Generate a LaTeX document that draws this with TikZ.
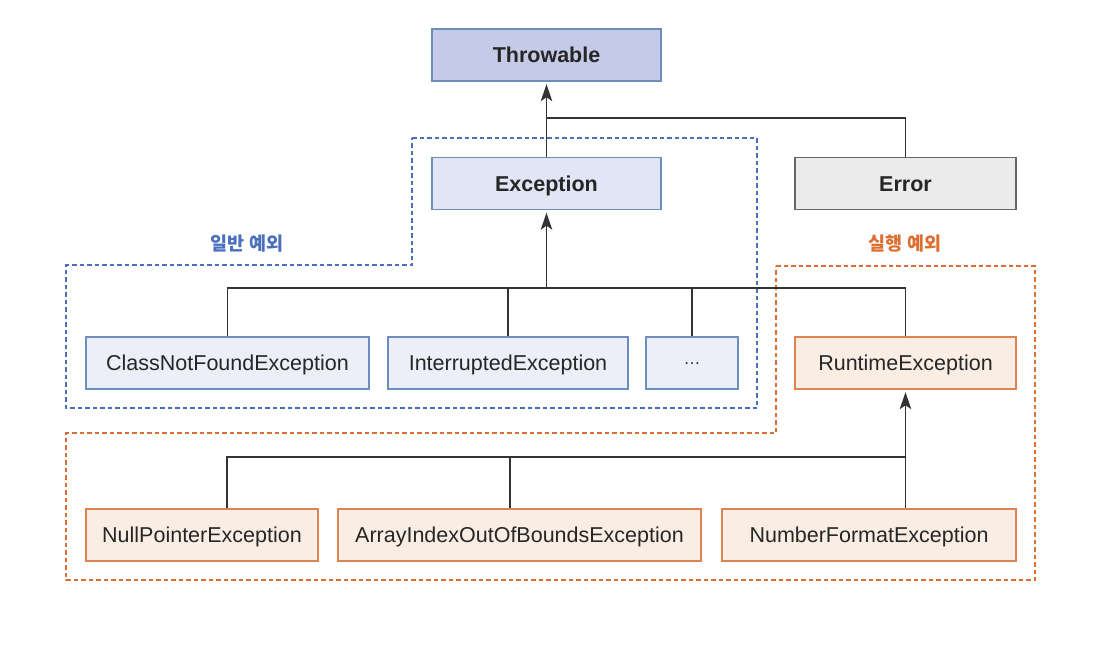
\documentclass[tikz,border=0pt]{standalone}
\usepackage{fontspec}
\setmainfont{Liberation Sans}
\newfontfamily\kofont{Noto Sans CJK KR}
\usetikzlibrary{arrows.meta,calc}
\definecolor{bluebd}{HTML}{6C8EBF}
\definecolor{thrfill}{HTML}{C5CBE7}
\definecolor{excfill}{HTML}{E1E5F5}
\definecolor{lbfill}{HTML}{ECEEF8}
\definecolor{errfill}{HTML}{EBEBEB}
\definecolor{errbd}{HTML}{666666}
\definecolor{orbd}{HTML}{DD8452}
\definecolor{orfill}{HTML}{FAEEE4}
\definecolor{bluedash}{HTML}{4A6FBD}
\definecolor{ordash}{HTML}{DD6E30}
\definecolor{linec}{HTML}{333333}
\begin{document}
\begin{tikzpicture}[x=1pt,y=-1pt,
  box/.style={draw, line width=1.4pt, inner sep=0pt, minimum height=52pt, text height=15.5pt, text depth=0pt, font=\fontsize{21.5}{24}\selectfont, text=black!85},
  bbox/.style={box, font=\bfseries\fontsize{21.5}{24}\selectfont},
  bluebox/.style={box, draw=bluebd, fill=lbfill},
  orbox/.style={box, draw=orbd, fill=orfill},
  conn/.style={draw=linec, line width=1.5pt},
  arr/.style={conn, shorten >=2.5pt, -{Stealth[length=17pt,width=11.5pt,inset=4pt]}},
  grp/.style={line width=1.3pt, dash pattern=on 4.5pt off 3pt},
  lbl/.style={font=\kofont\bfseries\fontsize{18.5}{22}\selectfont}
]
\useasboundingbox (0,0) rectangle (1110,648);
\fill[white] (0,0) rectangle (1110,648);

% groups
\draw[grp, draw=bluedash] (412,138) -- (757,138) -- (757,408) -- (66,408) -- (66,265) -- (412,265) -- cycle;
\draw[grp, draw=ordash] (776,266) -- (1035,266) -- (1035,580) -- (66,580) -- (66,433) -- (776,433) -- cycle;
\node[lbl, text=bluedash] (lblA) at (247,244) {일반 예외};
\node[lbl, text=ordash] (lblB) at (905,244) {실행 예외};

% nodes
\node[bbox, draw=bluebd, fill=thrfill, minimum width=229pt] (thr) at (546.5,55) {Throwable};
\node[bbox, draw=bluebd, fill=excfill, minimum width=229pt] (exc) at (546.5,183.5) {Exception};
\node[bbox, draw=errbd, fill=errfill, minimum width=221pt] (err) at (905.5,183.5) {Error};

\node[bluebox, minimum width=283pt] (cnf) at (227.5,363) {ClassNotFoundException};
\node[bluebox, minimum width=240pt] (int) at (508,363) {InterruptedException};
\node[bluebox, minimum width=92pt, text height=2pt, font=\fontsize{17}{20}\selectfont] (dots) at (692,363) {…};
\node[orbox, minimum width=221pt] (run) at (905.5,363) {RuntimeException};

\node[orbox, minimum width=232pt] (np) at (202,535) {NullPointerException};
\node[orbox, minimum width=363pt] (aio) at (519.5,535) {ArrayIndexOutOfBoundsException};
\node[orbox, minimum width=294pt] (nf) at (869,535) {NumberFormatException};

% connectors
\coordinate (j1) at (546.5,118);
\coordinate (b1) at (546.5,288);
\coordinate (b2) at (905.5,457);
\draw[arr] (exc.north) -- (thr.south);
\draw[conn] (err.north) |- (j1);
\draw[arr] (b1) -- (exc.south);
\draw[conn] (cnf.north) |- (b1);
\draw[conn] (run.north) |- (b1);
\draw[conn] (int.north) -- (int.north |- b1);
\draw[conn] (dots.north) -- (dots.north |- b1);
\draw[arr] (b2) -- (run.south);
\draw[conn] (nf.north -| b2) -- (b2);
\draw[conn] ([xshift=25pt]np.north) |- (b2);
\draw[conn] ([xshift=-9.5pt]aio.north) -- ([xshift=-9.5pt]aio.north |- b2);
\end{tikzpicture}
\end{document}
